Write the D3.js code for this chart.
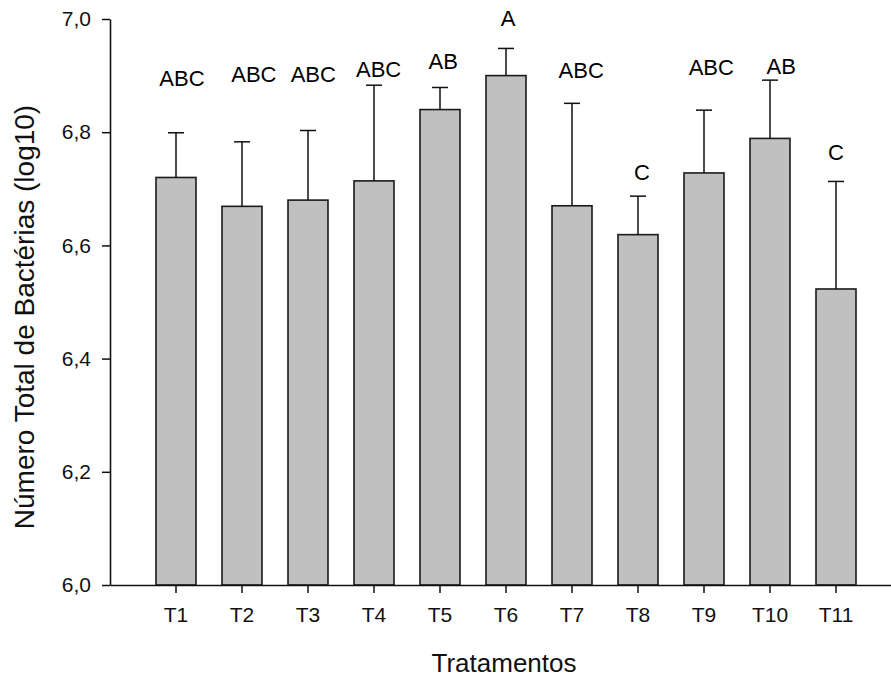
<!DOCTYPE html>
<html>
<head>
<meta charset="utf-8">
<script src="https://cdn.jsdelivr.net/npm/d3@7"></script>
<style>
  body { margin: 0; background: #fff; }
  svg { display: block; font-family: "Liberation Sans", Arial, sans-serif; }
</style>
</head>
<body>
<svg id="chart"></svg>
<script>
// treatments and their means (log10 of total bacteria)
const treatments = ["T1", "T2", "T3", "T4", "T5", "T6", "T7", "T8", "T9", "T10", "T11"];
const means = [6.720, 6.669, 6.680, 6.714, 6.840, 6.900, 6.670, 6.619, 6.728, 6.789, 6.523];
// top of the error bar (mean + sd)
const errTops = [6.799, 6.783, 6.803, 6.883, 6.879, 6.948, 6.851, 6.687, 6.839, 6.892, 6.713];
// Tukey letters, with their height (data units) and small sideways shift (fraction of a step)
const letters = ["ABC", "ABC", "ABC", "ABC", "AB", "A", "ABC", "C", "ABC", "AB", "C"];
const letterLevel = [6.882, 6.889, 6.889, 6.898, 6.912, 6.988, 6.896, 6.716, 6.901, 6.903, 6.751];
const letterShift = [0.09, 0.18, 0.08, 0.07, 0.05, 0.03, 0.14, 0.06, 0.11, 0.17, 0];
const yTicks = [6.0, 6.2, 6.4, 6.6, 6.8, 7.0];

const width = 891;
const height = 677;
const margin = { top: 19, right: -11, bottom: 92, left: 110 };

const svg = d3.select("#chart")
  .attr("width", width)
  .attr("height", height);

const ptBR = d3.formatLocale({ decimal: ",", thousands: ".", grouping: [3], currency: ["R$", ""] });

// x scale: bars sit at 1..11 on a 0..12 axis
const x = d3.scaleBand()
  .domain(treatments)
  .range([margin.left, width - margin.right])
  .paddingInner(0.394)
  .paddingOuter(0.697);

const y = d3.scaleLinear()
  .domain([6, 7])
  .range([height - margin.bottom, margin.top]);

// bars
svg.selectAll("rect.bar")
  .data(treatments)
  .enter()
  .append("rect")
  .attr("class", "bar")
  .attr("x", d => x(d))
  .attr("y", (d, i) => y(means[i]))
  .attr("width", x.bandwidth())
  .attr("height", (d, i) => y(6) - y(means[i]))
  .attr("fill", "#c0c0c0")
  .attr("stroke", "#1a1a1a")
  .attr("stroke-width", 1.6);

// error bars (upper only)
const err = svg.selectAll("g.err")
  .data(treatments)
  .enter()
  .append("g")
  .attr("class", "err")
  .attr("transform", d => `translate(${x(d) + x.bandwidth() / 2},0)`);

err.append("line")
  .attr("x1", 0).attr("x2", 0)
  .attr("y1", (d, i) => y(means[i]))
  .attr("y2", (d, i) => y(errTops[i]))
  .attr("stroke", "#111")
  .attr("stroke-width", 1.5);

err.append("line")
  .attr("x1", -8).attr("x2", 8)
  .attr("y1", (d, i) => y(errTops[i]))
  .attr("y2", (d, i) => y(errTops[i]))
  .attr("stroke", "#111")
  .attr("stroke-width", 1.5);

// letters
svg.selectAll("text.letter")
  .data(treatments)
  .enter()
  .append("text")
  .attr("class", "letter")
  .attr("x", (d, i) => x(d) + x.bandwidth() / 2 + letterShift[i] * x.step())
  .attr("y", (d, i) => y(letterLevel[i]))
  .attr("text-anchor", "middle")
  .attr("font-size", 22)
  .attr("fill", "#000")
  .text((d, i) => letters[i]);

// axes
const xAxis = svg.append("g")
  .attr("transform", `translate(0,${y(6)})`)
  .call(d3.axisBottom(x).tickSize(8).tickSizeOuter(0).tickPadding(14));

const yAxis = svg.append("g")
  .attr("transform", `translate(${margin.left},0)`)
  .call(d3.axisLeft(y).tickValues(yTicks).tickSize(8).tickSizeOuter(0).tickPadding(11)
    .tickFormat(ptBR.format(".1f")));

[xAxis, yAxis].forEach(g => {
  g.select(".domain").attr("stroke", "#111").attr("stroke-width", 1.6);
  g.selectAll(".tick line").attr("stroke", "#111").attr("stroke-width", 1.5);
  g.selectAll(".tick text")
    .attr("font-size", 21)
    .attr("font-family", "Liberation Sans, Arial, sans-serif")
    .attr("fill", "#111");
});

// axis titles
svg.append("text")
  .attr("x", 504)
  .attr("y", 672)
  .attr("text-anchor", "middle")
  .attr("font-size", 26)
  .attr("fill", "#111")
  .text("Tratamentos");

svg.append("text")
  .attr("transform", "translate(34,317) rotate(-90)")
  .attr("text-anchor", "middle")
  .attr("font-size", 28)
  .attr("fill", "#111")
  .text("Número Total de Bactérias (log10)");
</script>
</body>
</html>
